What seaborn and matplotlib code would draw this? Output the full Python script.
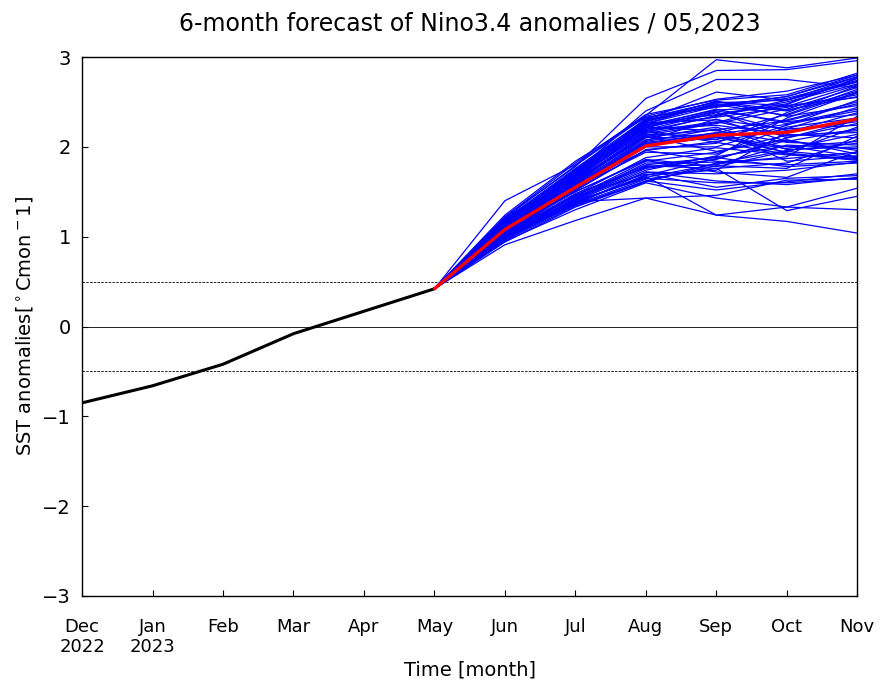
"""6-month Nino3.4 forecast plume"""
import pandas as pd
import matplotlib
matplotlib.use("Agg")
import matplotlib.pyplot as plt
import seaborn as sns

# ── Data ──────────────────────────────────────────────────────────────────────
month_labels = ["Dec\n2022", "Jan\n2023", "Feb", "Mar", "Apr", "May",
                "Jun", "Jul", "Aug", "Sep", "Oct", "Nov"]
obs_months = [0, 1, 2, 3, 4, 5]
obs_sst = [-0.85, -0.66, -0.42, -0.08, 0.17, 0.42]
mean_months = [5, 6, 7, 8, 9, 10, 11]
mean_sst = [0.42, 1.08, 1.55, 2.01, 2.13, 2.16, 2.31]
y_ticks = [-3, -2, -1, 0, 1, 2, 3]

# ensemble members, one position per member, start from May value
may_start = 0.42
jun_sst = [1.40, 1.22, 1.20, 1.18, 0.91, 1.00, 0.95, 0.98, 1.02, 1.00,
           1.03, 1.05, 0.97, 1.08, 1.22, 1.19, 1.24, 1.17, 1.21, 1.15,
           1.18, 1.12, 1.20, 1.14, 1.16, 1.10, 1.13, 1.19, 1.09, 1.15,
           1.11, 1.07, 1.14, 1.17, 1.06, 1.10, 1.12, 1.04, 1.08, 1.13,
           1.05, 1.09, 1.01, 1.07, 1.11, 1.03, 1.06, 0.99, 1.04, 1.08,
           1.02, 1.05, 0.98, 1.03, 1.06, 1.00, 0.96, 1.04, 1.01, 0.94,
           1.07, 1.10, 1.13, 1.02, 1.16, 0.99, 1.09, 1.05, 1.12, 1.03,
           1.18, 1.00, 1.06, 1.15]
jul_sst = [1.80, 1.78, 1.72, 1.70, 1.18, 1.39, 1.30, 1.38, 1.42, 1.35,
           1.45, 1.40, 1.36, 1.50, 1.82, 1.76, 1.84, 1.74, 1.79, 1.70,
           1.75, 1.66, 1.73, 1.68, 1.71, 1.62, 1.67, 1.72, 1.58, 1.69,
           1.63, 1.55, 1.65, 1.70, 1.50, 1.61, 1.64, 1.46, 1.59, 1.66,
           1.44, 1.60, 1.40, 1.57, 1.62, 1.42, 1.56, 1.37, 1.53, 1.58,
           1.41, 1.55, 1.36, 1.51, 1.57, 1.43, 1.34, 1.52, 1.47, 1.33,
           1.59, 1.63, 1.67, 1.45, 1.69, 1.38, 1.61, 1.54, 1.65, 1.48,
           1.73, 1.39, 1.56, 1.68]
aug_sst = [2.35, 2.54, 2.40, 2.30, 1.43, 1.43, 1.60, 1.67, 1.79, 1.62,
           1.70, 1.65, 1.72, 1.85, 2.36, 2.31, 2.33, 2.27, 2.34, 2.22,
           2.29, 2.18, 2.25, 2.20, 2.28, 2.12, 2.21, 2.30, 1.96, 2.24,
           2.14, 1.94, 2.17, 2.26, 1.86, 2.11, 2.19, 1.80, 2.08, 2.23,
           1.78, 2.13, 1.72, 2.04, 2.16, 1.76, 2.06, 1.69, 2.00, 2.10,
           1.74, 2.03, 1.64, 1.97, 2.07, 1.82, 1.62, 1.96, 1.88, 1.61,
           2.15, 2.22, 2.26, 1.84, 2.32, 1.68, 2.12, 2.01, 2.18, 1.77,
           2.28, 1.66, 2.05, 2.24]
sep_sst = [2.97, 2.85, 2.75, 2.61, 1.24, 1.46, 1.43, 1.24, 1.76, 1.52,
           1.55, 1.60, 1.62, 1.72, 2.52, 2.50, 2.44, 2.30, 2.53, 2.18,
           2.48, 2.05, 2.36, 2.24, 2.51, 1.95, 2.40, 2.46, 1.84, 2.33,
           2.12, 1.92, 2.28, 2.49, 1.78, 2.08, 2.38, 1.88, 2.15, 2.42,
           1.80, 2.26, 1.70, 2.10, 2.35, 1.86, 2.20, 1.74, 2.00, 2.22,
           1.90, 2.16, 1.76, 2.04, 2.31, 1.83, 1.79, 2.06, 1.99, 1.82,
           2.27, 2.39, 2.45, 1.94, 2.50, 1.87, 2.19, 2.11, 2.34, 1.89,
           2.47, 1.81, 2.14, 2.41]
oct_sst = [2.88, 2.86, 2.75, 2.52, 1.17, 1.63, 1.33, 1.33, 1.29, 1.61,
           1.65, 1.60, 1.58, 1.66, 2.58, 2.46, 2.54, 2.20, 2.62, 2.05,
           2.40, 1.92, 2.50, 2.14, 2.34, 2.08, 2.28, 2.56, 1.80, 2.44,
           2.00, 2.22, 2.12, 2.52, 1.95, 2.30, 2.18, 1.78, 2.36, 2.26,
           2.02, 2.42, 1.74, 1.98, 2.48, 2.10, 1.84, 2.16, 2.24, 1.97,
           2.32, 1.93, 1.82, 2.38, 2.06, 1.87, 1.76, 2.20, 1.91, 1.96,
           2.47, 2.10, 2.56, 2.13, 2.41, 2.07, 2.29, 1.94, 2.52, 2.01,
           2.35, 1.89, 2.25, 2.45]
nov_sst = [2.99, 2.96, 2.66, 2.78, 1.04, 1.64, 1.30, 1.54, 1.45, 1.70,
           1.68, 1.65, 1.66, 1.95, 2.82, 2.55, 2.74, 2.24, 2.80, 2.02,
           2.62, 1.85, 2.70, 2.10, 2.46, 1.92, 2.36, 2.78, 1.84, 2.58,
           2.06, 2.32, 2.18, 2.72, 1.88, 2.50, 2.28, 1.82, 2.64, 2.42,
           1.98, 2.66, 1.83, 2.14, 2.76, 2.26, 1.90, 2.38, 2.52, 2.00,
           2.60, 1.86, 2.08, 2.68, 2.20, 1.94, 2.12, 2.44, 1.87, 2.04,
           2.77, 2.30, 2.80, 2.16, 2.56, 1.96, 2.48, 2.22, 2.73, 1.89,
           2.61, 2.34, 2.40, 2.69]

# ── Long table for seaborn ────────────────────────────────────────────────────
rows = []
for i, vals in enumerate(zip(jun_sst, jul_sst, aug_sst, sep_sst, oct_sst, nov_sst)):
    rows.append({"member": i, "month": 5, "sst": may_start})
    for m, v in zip(range(6, 12), vals):
        rows.append({"member": i, "month": m, "sst": v})
plume = pd.DataFrame(rows)

# ── Plot ──────────────────────────────────────────────────────────────────────
sns.set_style("ticks")
plt.rcParams["font.family"] = "DejaVu Sans"
plt.rcParams["xtick.direction"] = "in"
plt.rcParams["ytick.direction"] = "in"
plt.rcParams["text.color"] = "black"
plt.rcParams["axes.labelcolor"] = "black"
plt.rcParams["xtick.color"] = "black"
plt.rcParams["ytick.color"] = "black"
plt.rcParams["axes.edgecolor"] = "black"

fig, ax = plt.subplots(figsize=(8.87, 6.93), dpi=100)
fig.subplots_adjust(left=0.0925, right=0.9665, top=0.9177, bottom=0.14)

ax.axhline(0, color="black", lw=0.6)
ax.axhline(0.5, color="black", lw=0.6, ls=(0, (3, 1.5)))
ax.axhline(-0.5, color="black", lw=0.6, ls=(0, (3, 1.5)))

sns.lineplot(data=plume, x="month", y="sst", units="member", estimator=None,
             color="blue", lw=0.9, ax=ax, legend=False)
sns.lineplot(x=obs_months, y=obs_sst, color="black", lw=2.2, ax=ax, errorbar=None)
sns.lineplot(x=mean_months, y=mean_sst, color="red", lw=2.4, ax=ax, errorbar=None)

ax.set_xlim(0, 11)
ax.set_ylim(-3, 3)
ax.set_xticks(range(12))
ax.set_xticklabels(month_labels)
ax.set_yticks(y_ticks)
ax.tick_params(axis="both", labelsize=14, length=4, width=0.8)
ax.tick_params(axis="x", labelsize=13, pad=15.5)
ax.tick_params(axis="y", pad=8)
ax.set_xlabel("Time [month]", fontsize=14, labelpad=3)
ax.set_ylabel(r"SST anomalies[$^\circ$Cmon$^-$1]", fontsize=14, labelpad=5)
ax.set_title("6-month forecast of Nino3.4 anomalies / 05,2023", fontsize=17, pad=19)
for s in ax.spines.values():
    s.set_visible(True)
    s.set_linewidth(1)

fig.savefig("out.png", dpi=100)
plt.close()
